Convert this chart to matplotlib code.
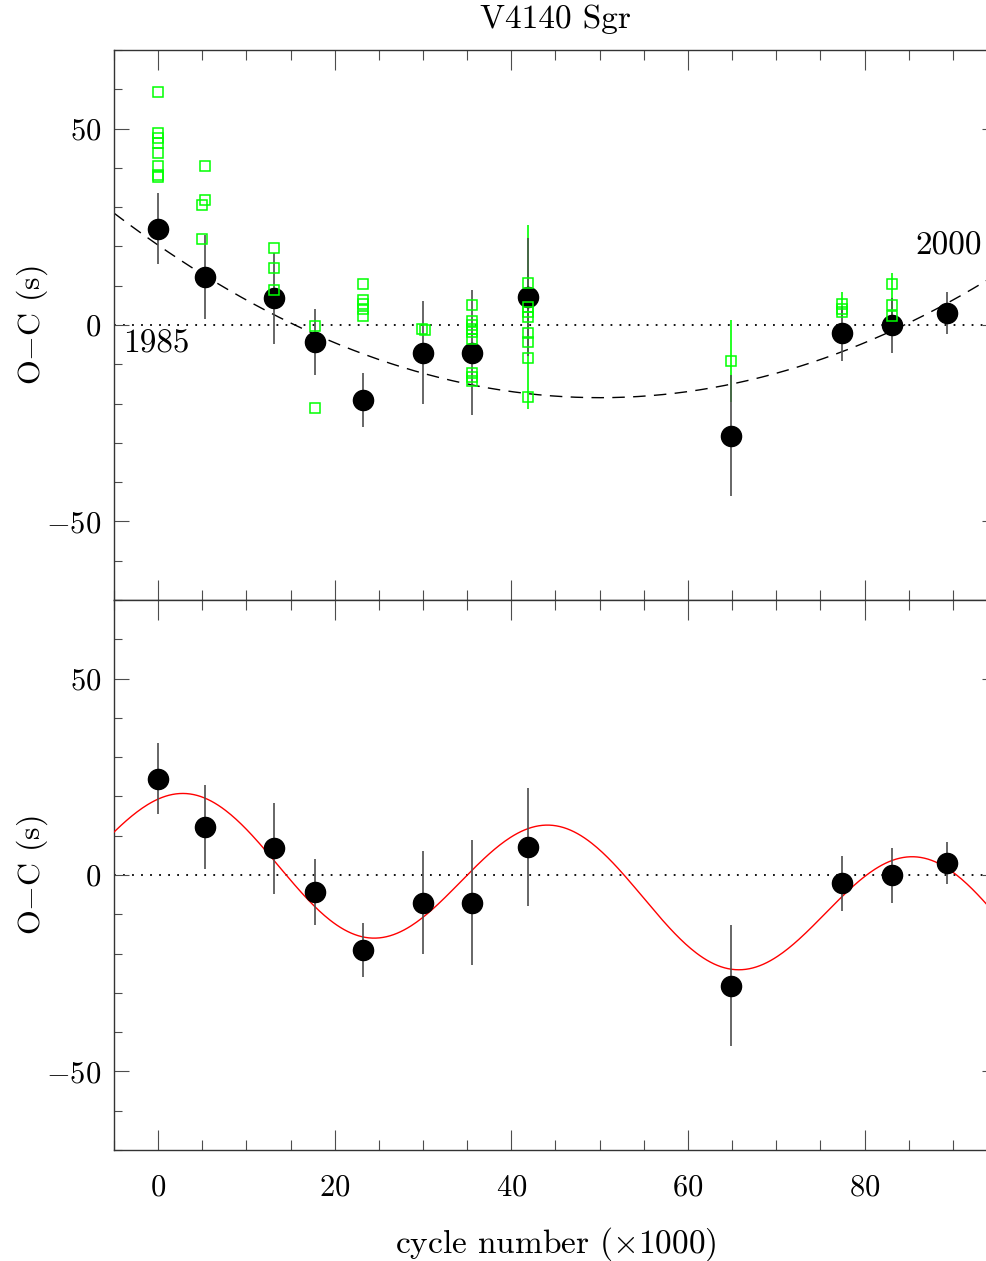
import numpy as np
import matplotlib
matplotlib.use("Agg")
import matplotlib.pyplot as plt
from matplotlib.ticker import MultipleLocator

plt.rcParams["font.family"] = "cmr10"
plt.rcParams["mathtext.fontset"] = "cm"
plt.rcParams["axes.formatter.use_mathtext"] = True

# mean O-C per epoch (cycle number in units of 1000)
cycle = [0.0, 5.3, 13.1, 17.8, 23.2, 30.0, 35.5, 41.85, 64.9, 77.4, 83.1, 89.3]
oc = [24.5, 12.2, 6.8, -4.2, -19.1, -7.0, -7.0, 7.2, -28.2, -2.1, 0.0, 3.0]
oc_err = [9.0, 10.6, 11.6, 8.4, 6.9, 13.1, 15.8, 15.0, 15.4, 7.0, 7.0, 5.3]

# individual eclipse timings
ind_cycle = ([0.0] * 8 + [5.3, 5.3, 5.0, 5.0] + [13.1] * 3 + [17.8] * 2
             + [23.2] * 5 + [29.85, 30.2] + [35.5] * 9 + [41.85] * 8
             + [64.9] + [77.4] * 3 + [83.1] * 3)
ind_oc = ([59.2, 48.9, 47.7, 46.4, 43.9, 40.4, 38.3, 37.8]
          + [40.5, 31.9, 30.6, 21.9]
          + [19.6, 14.5, 9.0]
          + [-0.3, -21.2]
          + [10.4, 6.4, 5.4, 4.1, 2.2]
          + [-0.9, -1.3]
          + [5.2, 1.1, 0.0, -0.9, -1.9, -3.6, -12.1, -13.3, -14.2]
          + [10.7, 4.5, 3.2, 2.0, -2.0, -4.4, -8.4, -18.3]
          + [-9.1]
          + [5.4, 4.1, 3.2]
          + [10.5, 5.2, 2.4])

# individual timings that carry an error bar
ind_err_cycle = [41.85, 64.9, 77.4, 83.1]
ind_err_oc = [2.0, -9.1, 5.4, 5.2]
ind_err = [23.4, 10.5, 3.0, 8.0]

# quadratic ephemeris:  a (E - E0)^2 + c
quad_a, quad_e0, quad_c = 0.01553, 50.0, -18.5
# linear trend plus sinusoid
sin_c0, sin_c1, sin_amp, sin_per, sin_e0 = 5.0, -0.195, 16.35, 41.3, 3.3

xlim = (-5, 95)
ylim = (-70, 70)
W, H = 987, 1261
fig = plt.figure(figsize=(W / 100, H / 100), dpi=100)
left, width = 114 / W, (997 - 114) / W
ax1 = fig.add_axes([left, 1 - 600 / H, width, 550 / H])
ax2 = fig.add_axes([left, 1 - 1150 / H, width, 550 / H], sharex=ax1)

xx = np.linspace(xlim[0], xlim[1], 500)

for ax in (ax1, ax2):
    ax.set_xlim(*xlim)
    ax.set_ylim(*ylim)
    ax.axhline(0, color="k", lw=1.3, ls=(0, (1, 4)), zorder=1)
    ax.errorbar(cycle, oc, yerr=oc_err, fmt="o", color="k", ms=14.5,
                ecolor="0.3", elinewidth=1.2, capsize=0, zorder=4)
    ax.xaxis.set_major_locator(MultipleLocator(20))
    ax.xaxis.set_minor_locator(MultipleLocator(5))
    ax.yaxis.set_major_locator(MultipleLocator(50))
    ax.yaxis.set_minor_locator(MultipleLocator(10))
    ax.tick_params(which="both", direction="in", top=True, right=True,
                   color="0.3", width=0.8, labelsize=22)
    ax.tick_params(axis="x", which="major", length=14.4, pad=17)
    ax.tick_params(axis="x", which="minor", length=7.2)
    ax.tick_params(axis="y", which="major", length=11, pad=9)
    ax.tick_params(axis="y", which="minor", length=5.5)
    for s in ax.spines.values():
        s.set_linewidth(1.0)
        s.set_color("0.2")
    ax.set_ylabel(r"O$-$C (s)", fontsize=23, va="center")
    ax.yaxis.set_label_coords(-0.093, 0.5)

# top: individual timings and quadratic ephemeris
ax1.errorbar(ind_err_cycle, ind_err_oc, yerr=ind_err, fmt="none",
             ecolor="#00ff00", elinewidth=1.2, capsize=0, zorder=3)
ax1.plot(ind_cycle, ind_oc, ls="none", marker="s", ms=7.5, mfc="none",
         mec="#00ff00", mew=1.1, zorder=5)
ax1.plot(xx, quad_a * (xx - quad_e0) ** 2 + quad_c, color="k", lw=1.0,
         ls=(0, (9, 6)), zorder=2)
ax1.text(-4.0, -4.9, "1985", fontsize=24, ha="left", va="center")
ax1.text(85.7, 20.2, "2000", fontsize=24, ha="left", va="center")
ax1.tick_params(labelbottom=False)
ax1.set_title("V4140 Sgr", fontsize=24, pad=16)

# bottom: sinusoidal fit
ax2.plot(xx, sin_c0 + sin_c1 * xx
         + sin_amp * np.cos(2 * np.pi * (xx - sin_e0) / sin_per),
         color="red", lw=1.0, zorder=3)
ax2.set_xlabel(r"cycle number ($\times$1000)", fontsize=24, labelpad=17)

fig.savefig("out.png", dpi=100)
